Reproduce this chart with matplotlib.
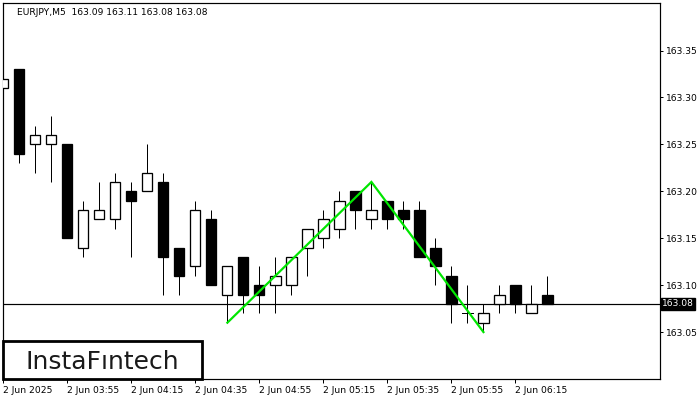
import matplotlib
matplotlib.use("Agg")
import matplotlib.pyplot as plt
from matplotlib.patches import Rectangle
from matplotlib.transforms import blended_transform_factory

# ---- data (EURJPY M5, 2 Jun 2025) ----
opens  = [163.31, 163.33, 163.25, 163.25, 163.25, 163.14, 163.17, 163.17, 163.20, 163.20,
          163.21, 163.14, 163.12, 163.17, 163.09, 163.13, 163.10, 163.10, 163.10, 163.14,
          163.15, 163.16, 163.20, 163.17, 163.19, 163.18, 163.18, 163.14, 163.11, 163.07,
          163.06, 163.08, 163.10, 163.07, 163.09]
highs  = [163.34, 163.33, 163.27, 163.28, 163.25, 163.19, 163.21, 163.22, 163.21, 163.25,
          163.22, 163.14, 163.19, 163.18, 163.12, 163.13, 163.12, 163.13, 163.13, 163.16,
          163.18, 163.20, 163.20, 163.21, 163.19, 163.19, 163.19, 163.15, 163.12, 163.10,
          163.08, 163.10, 163.10, 163.10, 163.11]
lows   = [163.30, 163.23, 163.22, 163.21, 163.15, 163.13, 163.17, 163.16, 163.13, 163.20,
          163.09, 163.09, 163.11, 163.10, 163.06, 163.07, 163.07, 163.07, 163.09, 163.11,
          163.14, 163.15, 163.16, 163.16, 163.16, 163.16, 163.13, 163.10, 163.06, 163.06,
          163.05, 163.07, 163.07, 163.07, 163.08]
closes = [163.32, 163.24, 163.26, 163.26, 163.15, 163.18, 163.18, 163.21, 163.19, 163.22,
          163.13, 163.11, 163.18, 163.10, 163.12, 163.09, 163.09, 163.11, 163.13, 163.16,
          163.17, 163.19, 163.18, 163.18, 163.17, 163.17, 163.13, 163.12, 163.08, 163.07,
          163.07, 163.09, 163.08, 163.08, 163.08]

time_labels = ["2 Jun 2025", "2 Jun 03:55", "2 Jun 04:15", "2 Jun 04:35", "2 Jun 04:55",
               "2 Jun 05:15", "2 Jun 05:35", "2 Jun 05:55", "2 Jun 06:15"]
label_step = 4

price_ticks = [163.05, 163.10, 163.15, 163.20, 163.25, 163.30, 163.35]

pattern_idx = [14, 23, 30]
pattern_px = [163.06, 163.21, 163.05]

title = "EURJPY,M5  163.09 163.11 163.08 163.08"
current_price = closes[-1]

# ---- figure ----
W, H = 700, 400
fig = plt.figure(figsize=(W / 100, H / 100), dpi=100)
ax = fig.add_axes([2.5 / W, (H - 379) / H, (659.5 - 2.5) / W, (379 - 2.7) / H])
ax.set_xlim(-0.05, 41.0)
ax.set_ylim(163.0, 163.401)

px = 72 / 100  # 1 pixel in points
body_w = 0.64
for i, (o, h, l, c) in enumerate(zip(opens, highs, lows, closes)):
    lo_b, hi_b = min(o, c), max(o, c)
    # wicks
    ax.plot([i, i], [l, h], color="black", lw=px, solid_capstyle="butt", zorder=2)
    if abs(c - o) < 1e-9:
        ax.plot([i - body_w / 2, i + body_w / 2], [o, o], color="black", lw=px, zorder=3)
    else:
        face = "white" if c > o else "black"
        ax.add_patch(Rectangle((i - body_w / 2, lo_b), body_w, hi_b - lo_b,
                               facecolor=face, edgecolor="black", lw=px * 1.3, zorder=3))

# current price line
ax.axhline(current_price, color="black", lw=px * 1.2, zorder=1)

# pattern line
ax.plot(pattern_idx, pattern_px, color="#00e600", lw=2.0 * px * 1.1, zorder=4,
        solid_joinstyle="miter")

# spines
for s in ax.spines.values():
    s.set_linewidth(px * 1.2)
    s.set_color("black")

# ticks
ax.yaxis.tick_right()
ax.set_yticks(price_ticks)
ax.set_yticklabels([f"{v:.2f}" for v in price_ticks], fontsize=6.6)
ax.tick_params(axis="y", direction="out", length=3 * px, width=px, pad=2.5)

xt = [k * label_step for k in range(len(time_labels))]
ax.set_xticks(xt)
ax.set_xticklabels(time_labels, fontsize=6.6, ha="left")
ax.tick_params(axis="x", direction="out", length=4 * px, width=px, pad=2)

# current price label
tr = blended_transform_factory(ax.transAxes, ax.transData)
ax.text(1.004, current_price, f"{current_price:.2f}", transform=tr, fontsize=6.6,
        color="white", va="center", ha="left",
        bbox=dict(boxstyle="square,pad=0.15", facecolor="black", edgecolor="black"),
        zorder=10, clip_on=False)

# title
fig.text(17.3 / W, (H - 15) / H, title, fontsize=6.6, color="black",
         ha="left", va="baseline")

# logo
fig.patches.append(Rectangle((2.5 / W, (H - 378.5) / H), 199.5 / W, 38 / H,
                             transform=fig.transFigure, facecolor="white",
                             edgecolor="black", lw=2.0, zorder=20))
fig.text(102 / W, (H - 369.3) / H, "InstaF\u0131ntech", fontsize=18, color="#1a1a1a",
         ha="center", va="baseline", family="DejaVu Sans", zorder=21)

fig.savefig("out.png", dpi=100)
